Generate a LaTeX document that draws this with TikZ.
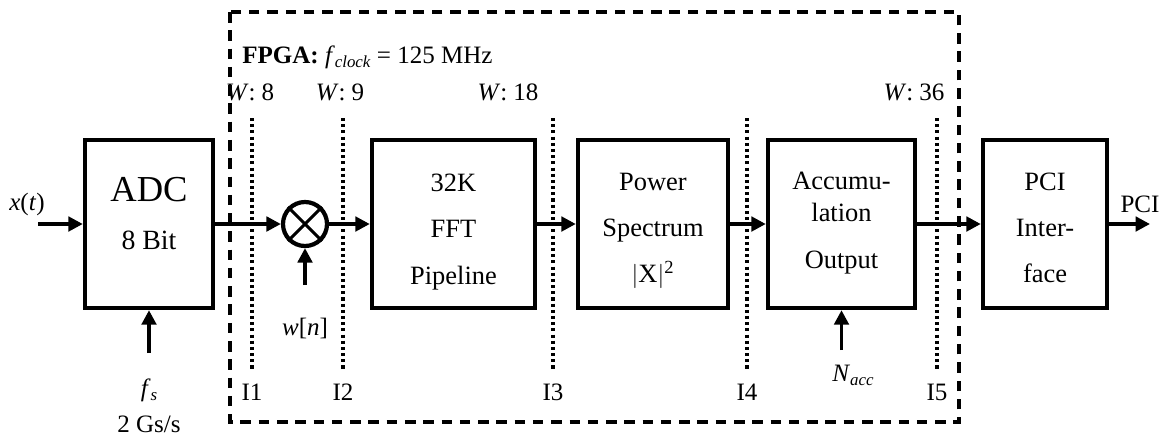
\documentclass[tikz,border=0pt]{standalone}
\usepackage{fontspec}
\setmainfont{Liberation Serif}
\usetikzlibrary{arrows.meta,positioning}

\newcommand{\lowsub}[1]{\raisebox{-3.5pt}{\fontsize{12}{13}\selectfont\textit{#1}}}

\begin{document}
\begin{tikzpicture}[x=0.025cm, y=-0.025cm,
  blk/.style={rectangle, draw, line width=3.1pt, minimum height=4.2cm},
  txt/.style={align=center, inner sep=0pt, font=\fontsize{18.8}{32.8}\selectfont},
  lbl/.style={font=\fontsize{17.8}{21}\selectfont, inner sep=0pt},
  sig/.style={-{Triangle[length=0.36cm, width=0.36cm]}, line width=2.5pt},
  cut/.style={line width=2.4pt, dash pattern=on 2.2pt off 2.2pt},
  fpga/.style={line width=2.3pt, dash pattern=on 7.5pt off 5.5pt}
]
\useasboundingbox (0,0) rectangle (1165,436);

% FPGA region
\draw[fpga] (230,12) rectangle (959,422);
\node[lbl, anchor=base west] (fpgalbl) at (242,63)
  {\textbf{FPGA:}\ \textit{f}\lowsub{clock} = 125 MHz};

% Blocks
\node[blk, minimum width=3.2cm] (adc) at (149,224) {};
\node[txt, font=\fontsize{19.8}{34.7}\selectfont] (adctxt) at (149,213.5)
  {{\fontsize{26}{34.7}\selectfont ADC}\\8 Bit};
\node[circle, draw, line width=3pt, minimum size=1.1cm, inner sep=0pt] (mix) at (305,224) {};
\draw[line width=2.2pt] (mix.north west) -- (mix.south east) (mix.north east) -- (mix.south west);
\node[blk, minimum width=4.075cm] (fft) at (453.5,224) {};
\node[txt] (ffttxt) at (453.5,232) {32K\\FFT\\Pipeline};
\node[blk, minimum width=3.75cm]  (pwr) at (653,224) {};
\node[txt] (pwrtxt) at (653,231) {Power\\Spectrum\\$|$X$|$\textsuperscript{2}};
\node[blk, minimum width=3.675cm] (acc) at (841.5,224) {};
\node[txt] (acctxt) at (841.5,223) {Accumu-\\[-10pt]lation\\Output};
\node[blk, minimum width=3.1cm]   (pci) at (1045,224) {};
\node[txt] (pcitxt) at (1045,228) {PCI\\Inter-\\face};

% Free ends
\coordinate (xin)    at (38,224);
\coordinate (fsin)   at (149,353);
\coordinate (win)    at (305,285);
\coordinate (nin)    at (841.5,350);
\coordinate (pciout) at (1150,224);

% Signal path
\draw[sig] (xin) -- (adc.west);
\draw[sig] (adc.east) -- (mix.west);
\draw[sig] (mix.east) -- (fft.west);
\draw[sig] (fft.east) -- (pwr.west);
\draw[sig] (pwr.east) -- (acc.west);
\draw[sig] (acc.east) -- (pci.west);
\draw[sig] (pci.east) -- (pciout);
\draw[sig] (fsin) -- (adc.south);
\draw[sig] (win) -- (mix.south);
\draw[sig] (nin) -- (acc.south);

% Labels
\node[lbl, anchor=base] (xlbl)   at (27,210)   {\textit{x}(\textit{t})};
\node[lbl, anchor=base] (fslbl)  at (149,396)  {\textit{f}\lowsub{s}};
\node[lbl, anchor=base] (gslbl)  at (149,432)  {2 Gs/s};
\node[lbl, anchor=base] (wlbl)   at (305,335)  {\textit{w}[\textit{n}]};
\node[lbl, anchor=base] (nlbl)   at (853,381)  {\textit{N}\lowsub{acc}};
\node[lbl, anchor=base] (outlbl) at (1140,212) {PCI};

% Word widths
\node[lbl, anchor=base] (w1) at (250,100) {\textit{W}: 8};
\node[lbl, anchor=base] (w2) at (340,100) {\textit{W}: 9};
\node[lbl, anchor=base] (w3) at (508,100) {\textit{W}: 18};
\node[lbl, anchor=base] (w5) at (914,100) {\textit{W}: 36};

% Interfaces
\foreach \x/\n in {252/I1, 343/I2, 553/I3, 747/I4, 937/I5} {
  \draw[cut] (\x,118) -- (\x,370);
  \node[lbl, anchor=base] (lab\n) at (\x,400) {\n};
}
\end{tikzpicture}
\end{document}
